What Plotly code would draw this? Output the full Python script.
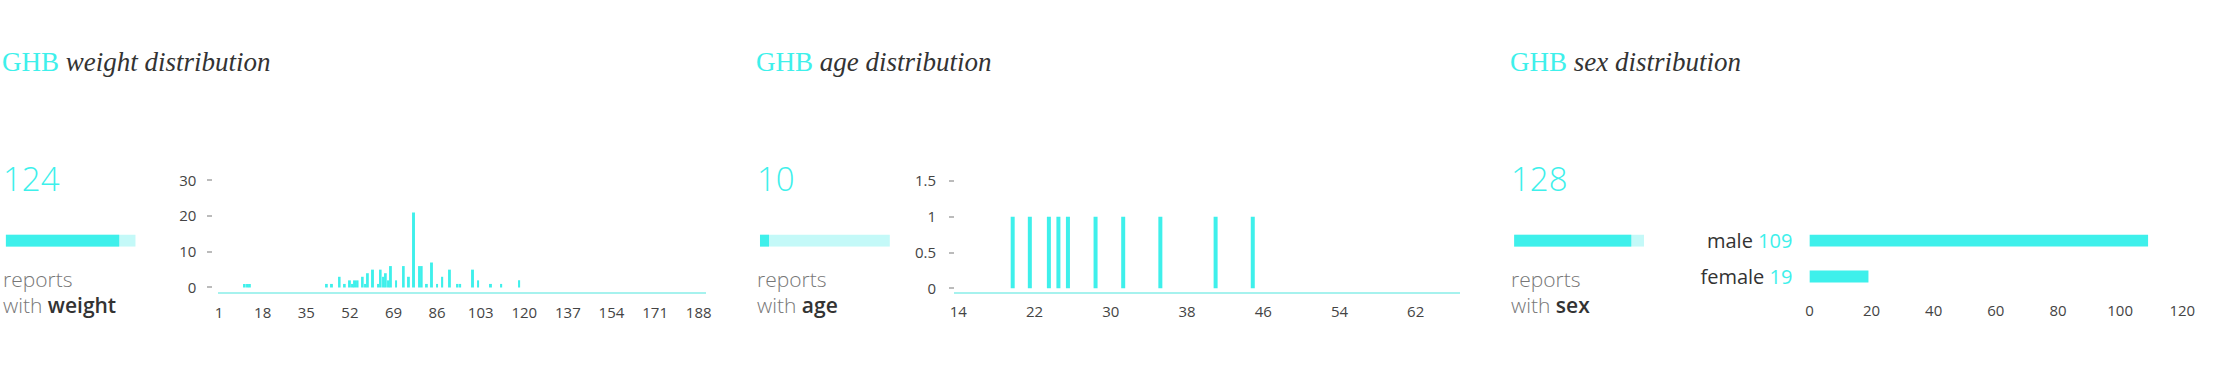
import plotly.graph_objects as go

W, H = 2228, 370
CYAN = "#3EF0EB"
CYAN_LIGHT = "#C4F9F8"
AXIS_LINE = "#A6F2EE"
DARK = "#333333"
GRAY = "#777777"
TICK_GRAY = "#BBBBBB"
SANS = "Open Sans"
SERIF = "Liberation Serif"

# ---------------- data ----------------
total_reports = 142
panel_names = ["weight", "age", "sex"]
panel_reports = [124, 10, 128]

weight_values = [11, 12, 13, 43, 45, 48, 50, 52, 53, 54, 55, 57, 58, 59, 61, 63, 64, 65, 66,
                 67, 68, 70, 73, 75, 77, 79, 80, 82, 84, 86, 88, 91, 94, 95, 100, 102, 107, 111, 118]
weight_counts = [1, 1, 1, 1, 1, 3, 1, 2, 1, 2, 2, 3, 1, 4, 5, 1, 5, 3, 4,
                 2, 6, 2, 6, 3, 21, 6, 6, 1, 7, 1, 3, 5, 1, 1, 5, 2, 1, 1, 2]
weight_xticks = [1, 18, 35, 52, 69, 86, 103, 120, 137, 154, 171, 188]
weight_yticks = [0, 10, 20, 30]

age_values = [19.7, 21.5, 23.5, 24.5, 25.5, 28.4, 31.3, 35.2, 41.0, 44.9]
age_counts = [1, 1, 1, 1, 1, 1, 1, 1, 1, 1]
age_xticks = [14, 22, 30, 38, 46, 54, 62]
age_yticks = [0, 0.5, 1, 1.5]

sex_labels = ["male", "female"]
sex_counts = [109, 19]
sex_xticks = [0, 20, 40, 60, 80, 100, 120]


def px(x):
    return x / W


def py(y):
    return 1 - y / H


fig = go.Figure()

# weight histogram
fig.add_trace(go.Bar(x=weight_values, y=weight_counts, width=0.75, marker_color=CYAN,
                     marker_line_width=0, xaxis="x", yaxis="y", hoverinfo="x+y"))
# age histogram
fig.add_trace(go.Bar(x=age_values, y=age_counts, width=0.42, marker_color=CYAN,
                     marker_line_width=0, xaxis="x2", yaxis="y2", hoverinfo="x+y"))
# sex bars
fig.add_trace(go.Bar(x=sex_counts, y=sex_labels, orientation="h", width=0.33, marker_color=CYAN,
                     marker_line_width=0, xaxis="x3", yaxis="y3", hoverinfo="x+y"))

# progress bars (reports with field / total reports)
for i, val in enumerate(panel_reports):
    xa, ya = f"x{4 + i}", f"y{4 + i}"
    fig.add_trace(go.Bar(x=[total_reports], y=[0], orientation="h", width=1,
                         marker_color=CYAN_LIGHT, marker_line_width=0, xaxis=xa, yaxis=ya,
                         hoverinfo="skip"))
    fig.add_trace(go.Bar(x=[val], y=[0], orientation="h", width=1,
                         marker_color=CYAN, marker_line_width=0, xaxis=xa, yaxis=ya,
                         hoverinfo="skip"))

tickfont = dict(family=SANS, size=15, color="#444444")

layout = dict(
    width=W, height=H, margin=dict(l=0, r=0, t=0, b=0),
    paper_bgcolor="white", plot_bgcolor="white", showlegend=False, barmode="overlay",
    # weight
    xaxis=dict(domain=[px(215.7), px(707)], range=[0.6, 190.7], anchor="y",
               tickmode="array", tickvals=weight_xticks, showgrid=False, zeroline=False,
               showline=True, linecolor=AXIS_LINE, linewidth=1.5, ticks="", tickfont=tickfont,
               ticklabelstandoff=6),
    yaxis=dict(domain=[py(295.3), py(176)], range=[-1.24, 31], anchor="free", position=px(210),
               tickmode="array", tickvals=weight_yticks, showgrid=False, zeroline=False,
               showline=False, ticks="outside", ticklen=5, tickwidth=1.5, tickcolor=TICK_GRAY,
               tickfont=tickfont, ticklabelstandoff=8),
    # age
    xaxis2=dict(domain=[px(957.3), px(1466.7)], range=[13.54, 66.6], anchor="y2",
                tickmode="array", tickvals=age_xticks, showgrid=False, zeroline=False,
                showline=True, linecolor=AXIS_LINE, linewidth=1.5, ticks="", tickfont=tickfont,
                ticklabelstandoff=6),
    yaxis2=dict(domain=[py(295), py(175.3)], range=[-0.047, 1.57], anchor="free", position=px(957.3),
                tickmode="array", tickvals=age_yticks, showgrid=False, zeroline=False,
                showline=False, ticks="outside", ticklen=5, tickwidth=1.5, tickcolor=TICK_GRAY,
                tickfont=tickfont, ticklabelstandoff=10),
    # sex
    xaxis3=dict(domain=[px(1819.3), px(2195)], range=[0, 120], anchor="y3",
                tickmode="array", tickvals=sex_xticks, showgrid=False, zeroline=False,
                showline=False, ticks="", tickfont=tickfont, ticklabelstandoff=6),
    yaxis3=dict(domain=[py(297.9), py(223.6)], range=[-0.5, 1.5], anchor="x3",
                type="category", categoryorder="array", categoryarray=sex_labels[::-1],
                tickmode="array", tickvals=sex_labels,
                ticktext=[f"{l} <span style='color:{CYAN}'>{c}</span>" for l, c in zip(sex_labels, sex_counts)],
                showgrid=False, zeroline=False, showline=False, ticks="",
                ticklabelstandoff=16, tickfont=dict(family=SANS, size=20, color=DARK)),
)

panel_left = [0, 760, 1520]
for i in range(3):
    left = panel_left[i]
    layout[f"xaxis{4 + i}"] = dict(domain=[px(left + 1.7), px(left + 1.7 + 131)], range=[0, total_reports],
                                   anchor=f"y{4 + i}", visible=False, fixedrange=True)
    layout[f"yaxis{4 + i}"] = dict(domain=[py(248.5), py(235.8)], range=[-0.5, 0.5],
                                   anchor=f"x{4 + i}", visible=False, fixedrange=True)

annotations = []
for i, name in enumerate(panel_names):
    left = panel_left[i] - 4
    annotations.append(dict(
        x=px(left), y=py(57.3), xref="paper", yref="paper", xanchor="left", yanchor="middle",
        showarrow=False,
        text=f"<span style='color:{CYAN}'>GHB</span> <i>{name} distribution</i>",
        font=dict(family=SERIF, size=27, color=DARK)))
    annotations.append(dict(
        x=px(left + 1), y=py(177.8), xref="paper", yref="paper", xanchor="left", yanchor="middle",
        showarrow=False, text=str(panel_reports[i]),
        font=dict(family=SANS, size=33, color=CYAN, weight=300)))
    annotations.append(dict(
        x=px(left + 1), y=py(281.6), xref="paper", yref="paper", xanchor="left", yanchor="middle",
        showarrow=False, text="reports",
        font=dict(family=SANS, size=21, color=GRAY, weight=300)))
    annotations.append(dict(
        x=px(left + 1), y=py(309.3), xref="paper", yref="paper", xanchor="left", yanchor="middle",
        showarrow=False,
        text=f"with <span style='color:{DARK};font-weight:600'>{name}</span>",
        font=dict(family=SANS, size=21, color=GRAY, weight=300)))
layout["annotations"] = annotations

fig.update_layout(**layout)
fig.write_html("out.html", config={"displayModeBar": False},
               post_script="document.body.style.margin='0';document.body.style.overflow='hidden';")
